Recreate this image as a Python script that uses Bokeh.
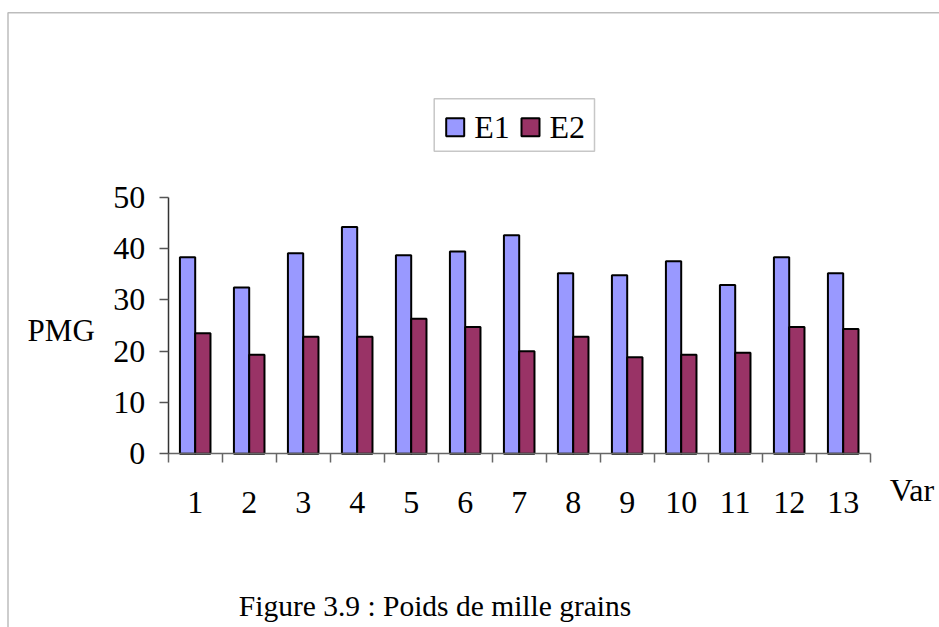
from bokeh.plotting import figure
from bokeh.models import (Range1d, FixedTicker, Label, ColumnDataSource, BoxAnnotation)
from bokeh.core.properties import value
from bokeh.embed import file_html
from bokeh.resources import INLINE
from bokeh.transform import dodge

# ---- data ----
categories = ["1", "2", "3", "4", "5", "6", "7", "8", "9", "10", "11", "12", "13"]
e1 = [38.3, 32.4, 39.1, 44.2, 38.7, 39.4, 42.6, 35.2, 34.8, 37.5, 32.9, 38.3, 35.2]
e2 = [23.5, 19.3, 22.8, 22.8, 26.3, 24.7, 20.0, 22.8, 18.8, 19.3, 19.7, 24.7, 24.3]
series_names = ["E1", "E2"]
y_ticks = [0, 10, 20, 30, 40, 50]
y_label = "PMG"
x_label = "Var"
caption = "Figure 3.9 : Poids de mille grains"

colors = ["#9999FF", "#993366"]
FONT = "Liberation Serif"

W, H = 939, 627
n = len(categories)

# layout of the value area on the canvas (pixels)
AX_X0, AX_X1 = 167.7, 869.7      # x=0 .. x=n
AX_Y0, AX_Y1 = 453.3, 196.7      # y=0 .. y=50 (from top)
sx = (AX_X1 - AX_X0) / n
sy = (AX_Y0 - AX_Y1) / (y_ticks[-1] - y_ticks[0])
x_start = -AX_X0 / sx
x_end = (W - AX_X0) / sx
y_start = -(H - AX_Y0) / sy
y_end = AX_Y0 / sy


def px_x(px):
    return (px - AX_X0) / sx


def px_y(py):
    return (AX_Y0 - py) / sy


xs = [i + 0.5 for i in range(n)]
src = ColumnDataSource(dict(x=xs, e1=e1, e2=e2))

p = figure(width=W, height=H,
           x_range=Range1d(x_start, x_end), y_range=Range1d(y_start, y_end),
           output_backend="svg", toolbar_location=None,
           min_border=0, outline_line_color=None,
           background_fill_color="white", border_fill_color="white")
p.xgrid.visible = False
p.ygrid.visible = False

# outer frame of the figure (top and left lines)
p.add_layout(BoxAnnotation(left=px_x(7.5), top=px_y(12.3), right=x_end + 5,
                           bottom=y_start - 20, fill_alpha=0,
                           line_color="#222222", line_width=1.5))

bw = 0.283
r1 = p.vbar(x=dodge("x", -bw / 2), top="e1", width=bw, source=src,
            fill_color=colors[0], line_color="black", line_width=2)
r2 = p.vbar(x=dodge("x", bw / 2), top="e2", width=bw, source=src,
            fill_color=colors[1], line_color="black", line_width=2)

# x axis: labels at centers, tick marks at boundaries (minor ticks)
xa = p.xaxis[0]
xa.fixed_location = 0
xa.bounds = (0, n)
xa.ticker = FixedTicker(ticks=xs, minor_ticks=list(range(n + 1)))
xa.major_label_overrides = {x: c for x, c in zip(xs, categories)}
xa.major_tick_out = 0
xa.major_tick_in = 0
xa.minor_tick_out = 9
xa.minor_tick_in = 0
xa.minor_tick_line_color = "#666666"
xa.minor_tick_line_width = 1.5
xa.axis_line_color = "#666666"
xa.axis_line_width = 1.5
xa.major_label_text_font = FONT
xa.major_label_text_font_size = "32px"
xa.major_label_text_color = "black"
xa.major_label_standoff = 29

ya = p.yaxis[0]
ya.fixed_location = 0
ya.bounds = (y_ticks[0], y_ticks[-1])
ya.ticker = FixedTicker(ticks=y_ticks, minor_ticks=[])
ya.major_tick_out = 9
ya.major_tick_in = 0
ya.minor_tick_out = 0
ya.minor_tick_in = 0
ya.major_tick_line_color = "#555555"
ya.major_tick_line_width = 1.5
ya.axis_line_color = "#333333"
ya.axis_line_width = 1.5
ya.major_label_text_font = FONT
ya.major_label_text_font_size = "32px"
ya.major_label_text_color = "black"
ya.major_label_standoff = 14

# y axis title, horizontal, left of the tick labels
p.add_layout(Label(x=0, y=(y_ticks[0] + y_ticks[-1]) / 2, x_offset=-73.4,
                   y_offset=-5, text=y_label,
                   text_font=FONT, text_font_size="31px", text_color="black",
                   text_baseline="alphabetic", text_align="right"))

# legend box
p.add_layout(BoxAnnotation(left=px_x(433.7), right=px_x(594), top=px_y(98.3),
                           bottom=px_y(150.7), fill_alpha=0,
                           line_color="#444444", line_width=1.5))
sw_left = [445.7, 521.0]
sw_size = 18
p.quad(left=[px_x(v) for v in sw_left], right=[px_x(v + sw_size) for v in sw_left],
       top=px_y(117.7), bottom=px_y(117.7 + sw_size),
       fill_color=colors, line_color="black", line_width=2)
p.text(x=[px_x(v + sw_size + 10) for v in sw_left], y=[px_y(126.7)] * 2,
       text=series_names, text_font=value(FONT), text_font_size="32px",
       text_color="black", text_baseline="alphabetic", text_align="left")

p.add_layout(Label(x=n, y=0, x_offset=19.6, y_offset=-36, text=x_label,
                   text_font=FONT, text_font_size="32px", text_color="black",
                   text_baseline="alphabetic", text_align="left"))
p.add_layout(Label(x=0, y=0, x_offset=70.6, y_offset=-152, text=caption,
                   text_font=FONT, text_font_size="29.5px", text_color="black",
                   text_baseline="alphabetic", text_align="left"))

open("out.html", "w").write(file_html(p, INLINE))
